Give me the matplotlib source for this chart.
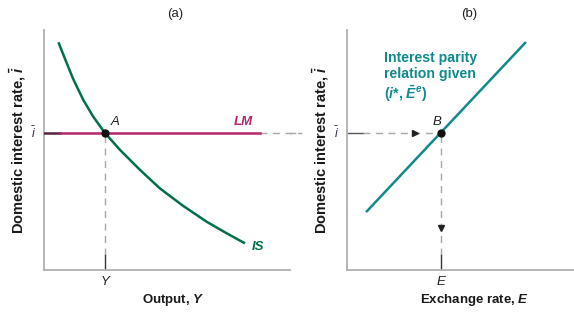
import matplotlib.pyplot as plt
import numpy as np

plt.rcParams['font.family'] = ['Liberation Sans', 'DejaVu Sans']
plt.rcParams['mathtext.fontset'] = 'custom'
plt.rcParams['mathtext.rm'] = 'Liberation Sans'
plt.rcParams['mathtext.it'] = 'Liberation Sans:italic'
plt.rcParams['mathtext.bf'] = 'Liberation Sans:bold'
plt.rcParams['mathtext.bfit'] = 'Liberation Sans:italic:bold'

# IS curve (output, interest rate)
is_Y = [0.60, 0.95, 1.22, 1.64, 2.05, 2.54, 3.17, 4.00, 4.83, 5.80, 6.78, 7.61, 8.375]
is_i = [9.49, 8.61, 7.95, 7.08, 6.39, 5.71, 5.00, 4.17, 3.40, 2.67, 2.01, 1.53, 1.11]

i_bar = 5.71          # fixed domestic interest rate (LM)
Y_eq = 2.54           # output at point A
lm_Y = [0.0, 9.0]     # extent of LM line

# interest parity line (exchange rate, interest rate)
ip_E = [0.83, 7.42]
ip_i = [2.45, 9.46]
E_eq = 3.92           # exchange rate at point B

GREEN = '#00704a'
TEAL = '#12898c'
MAGENTA = '#b2286c'
DARKM = '#5a2240'
GRAY = '#b0b0b0'
DASH = '#a8a8a8'

fig = plt.figure(figsize=(5.74, 3.24), dpi=100)
axa = fig.add_axes([44/574, 54/324, 246/574, 240/324])
axb = fig.add_axes([347/574, 54/324, 227/574, 240/324])
axa.set_xlim(0, 10.25); axa.set_ylim(0, 10)
axb.set_xlim(0, 227/24); axb.set_ylim(0, 10)

for ax in (axa, axb):
    for s in ('top', 'right'):
        ax.spines[s].set_visible(False)
    for s in ('left', 'bottom'):
        ax.spines[s].set_color(GRAY)
        ax.spines[s].set_linewidth(1.3)
    ax.set_xticks([]); ax.set_yticks([])
    ax.patch.set_alpha(0)
    ax.text(-1.1, 5.0, r'Domestic interest rate, $\mathbfit{\bar{i}}$', rotation=90,
            fontsize=10.5, fontweight='bold', color='#1a1a1a', ha='center', va='center')
    ax.text(-0.45, i_bar, r'$\bar{i}$', fontsize=9, color='#2e3347', ha='center', va='center',
            style='italic')

# ---- panel (a)
axa.text(5.45, 10.65, '(a)', fontsize=9.5, ha='center', va='center', color='#222222')
axa.plot(is_Y, is_i, color=GREEN, lw=1.8, solid_capstyle='butt', solid_joinstyle='round')
axa.plot([0, 0.67], [i_bar, i_bar], color=DARKM, lw=1.8, zorder=3)
axa.plot([0.67, lm_Y[1]], [i_bar, i_bar], color=MAGENTA, lw=1.8, zorder=3)
axa.plot([lm_Y[1], 10.75], [i_bar, i_bar], color=DASH, lw=1.0, ls=(0, (5, 4)), clip_on=False)
axa.plot([Y_eq, Y_eq], [0.62, i_bar], color=DASH, lw=1.0, ls=(0, (5, 4)))
axa.plot([Y_eq, Y_eq], [0, 0.62], color='#333333', lw=1.0)
axa.plot([Y_eq], [i_bar], 'o', color='#111111', ms=5, zorder=5)
axa.text(Y_eq + 0.25, i_bar + 0.2, 'A', fontsize=9.5, style='italic', color='#222222', va='bottom')
axa.text(8.3, i_bar + 0.2, 'LM', fontsize=9.5, style='italic', fontweight='bold', color=MAGENTA,
         ha='center', va='bottom')
axa.text(8.9, 0.95, 'IS', fontsize=9.5, style='italic', fontweight='bold', color=GREEN,
         ha='center', va='center')
axa.text(Y_eq, -0.5, 'Y', fontsize=9.5, style='italic', color='#222222', ha='center', va='center')
axa.text(5.4, -1.25, r'Output, $\mathbfit{Y}$', fontsize=9.5, fontweight='bold',
         color='#1a1a1a', ha='center', va='center')

# ---- panel (b)
axb.text(5.1, 10.65, '(b)', fontsize=9.5, ha='center', va='center', color='#222222')
axb.plot(ip_E, ip_i, color=TEAL, lw=1.8)
axb.plot([-2.4, -1.9], [i_bar, i_bar], color=DASH, lw=1.0, ls=(0, (5, 4)), clip_on=False)
axb.plot([0, 0.67], [i_bar, i_bar], color='#555555', lw=1.0)
axb.plot([0.67, E_eq], [i_bar, i_bar], color=DASH, lw=1.0, ls=(0, (5, 4)))
axb.plot([E_eq, E_eq], [0.62, i_bar], color=DASH, lw=1.0, ls=(0, (5, 4)))
axb.plot([E_eq, E_eq], [0, 0.62], color='#333333', lw=1.0)
axb.plot([2.85], [i_bar], marker='>', color='#222222', ms=5)
axb.plot([E_eq], [1.75], marker='v', color='#222222', ms=5)
axb.plot([E_eq], [i_bar], 'o', color='#111111', ms=5, zorder=5)
axb.text(E_eq - 0.15, i_bar + 0.22, 'B', fontsize=9.5, style='italic', color='#222222',
         ha='center', va='bottom')
axb.text(1.54, 8.02, 'Interest parity\nrelation given\n' + r'($\mathbfit{i}$*, $\mathbfit{\bar{E}^e}$)',
         fontsize=10.2, fontweight='bold', color=TEAL, ha='left', va='center', linespacing=1.22)
axb.text(E_eq, -0.5, 'E', fontsize=9.5, style='italic', color='#222222', ha='center', va='center')
axb.text(5.3, -1.25, r'Exchange rate, $\mathbfit{E}$', fontsize=9.5, fontweight='bold',
         color='#1a1a1a', ha='center', va='center')

fig.savefig('out.png', dpi=100)
